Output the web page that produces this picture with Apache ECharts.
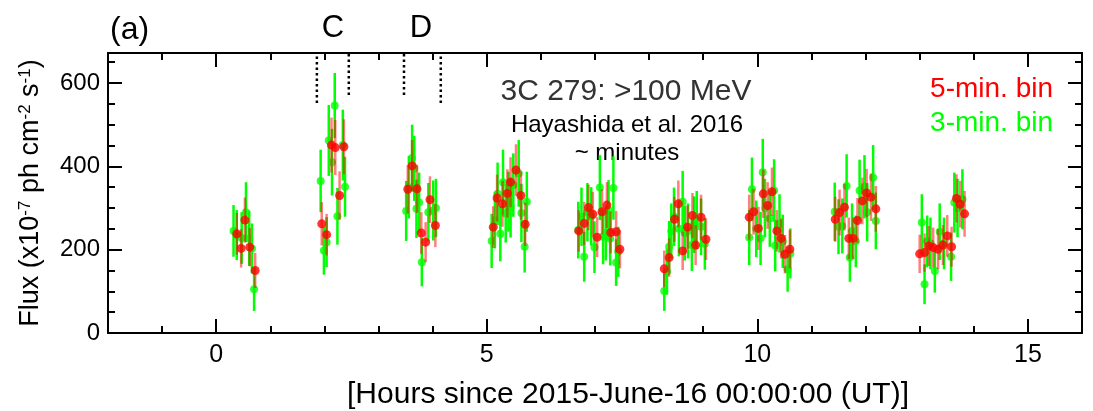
<!DOCTYPE html>
<html><head><meta charset="utf-8">
<script src="https://cdn.jsdelivr.net/npm/echarts@6/dist/echarts.min.js"></script>
<style>html,body{margin:0;padding:0;background:#fff}#c{width:1093px;height:411px}</style>
</head><body><div id="c"></div>
<script>
// ---- data (hours since 2015-06-16 00:00 UT, flux in 1e-7 ph cm^-2 s^-1) ----
const greenX = [0.32,0.38,0.47,0.55,0.61,0.66,0.70,
  1.93,1.99,2.04,2.08,2.14,2.19,2.24,2.34,2.38,
  3.51,3.56,3.62,3.66,3.70,3.75,3.80,3.92,4.01,4.06,
  5.09,5.15,5.20,5.25,5.30,5.35,5.40,5.44,5.49,5.59,5.64,5.70,5.74,
  6.69,6.75,6.80,6.86,6.93,6.99,7.09,7.15,7.20,7.25,7.28,7.34,7.39,7.43,
  8.28,8.33,8.37,8.41,8.46,8.55,8.62,8.66,8.72,8.79,8.83,8.88,8.96,9.03,
  9.85,9.90,9.98,10.06,10.10,10.14,10.23,10.31,10.33,10.41,10.47,10.56,10.61,
  11.43,11.50,11.57,11.65,11.71,11.75,11.82,11.89,11.98,12.03,12.14,12.19,
  13.04,13.09,13.14,13.20,13.28,13.37,13.45,13.58,13.64,13.70,13.79];
const greenY = [245,235,228,290,227,203,105,
  365,198,218,462,410,546,280,451,351,
  293,350,420,395,298,313,170,290,294,300,
  221,271,334,238,362,287,315,301,355,383,288,207,315,
  247,279,183,290,280,206,349,231,240,295,227,348,169,195,
  101,147,207,245,279,250,315,240,245,211,260,271,255,214,
  229,345,250,227,386,300,275,342,210,263,220,153,191,
  291,255,257,353,181,245,220,342,351,290,373,269,
  265,117,220,215,149,243,215,183,313,300,321];
const greenErr = [62,60,62,72,66,60,52,
  75,58,60,85,80,78,68,85,72,
  72,75,80,78,70,72,58,70,72,70,
  65,68,75,66,78,70,72,72,76,80,70,62,72,
  68,70,60,70,70,62,78,66,66,72,65,76,56,60,
  48,55,62,66,70,66,74,66,66,62,68,70,68,62,
  66,76,68,64,80,70,68,75,62,70,64,54,60,
  70,66,66,76,58,66,62,74,76,70,78,68,
  68,48,62,62,52,68,62,58,72,70,72];

const redX = [0.38,0.46,0.53,0.62,0.72,
  1.95,2.04,2.13,2.20,2.28,2.36,
  3.54,3.62,3.71,3.79,3.87,3.95,4.05,
  5.12,5.19,5.29,5.38,5.44,5.54,5.63,5.71,
  6.70,6.80,6.88,6.96,7.04,7.13,7.22,7.29,7.39,7.46,
  8.28,8.37,8.47,8.54,8.62,8.71,8.80,8.86,8.96,9.05,
  9.85,9.93,10.02,10.11,10.19,10.27,10.36,10.44,10.51,10.60,
  11.44,11.52,11.61,11.69,11.77,11.85,11.94,12.02,12.10,12.19,
  13.00,13.09,13.17,13.25,13.34,13.43,13.51,13.59,13.68,13.75,13.83];
const redY = [238,203,271,206,150,
  262,236,451,445,330,447,
  345,401,346,240,218,320,258,
  254,324,310,335,362,391,330,261,
  245,263,301,285,230,291,307,241,243,201,
  154,181,273,310,197,254,282,211,278,225,
  278,291,251,334,306,339,245,227,189,201,
  273,289,302,227,227,270,317,336,326,298,
  190,193,209,205,201,211,233,207,323,309,286];
const redErr = [50,46,54,46,42,
  52,50,66,66,58,66,
  58,62,58,50,48,56,52,
  50,56,55,58,60,62,58,52,
  50,52,55,54,48,54,55,50,50,46,
  44,46,54,56,46,52,54,48,54,50,
  54,55,52,58,56,58,50,48,46,46,
  54,55,56,50,50,54,56,58,57,55,
  46,46,48,48,48,48,50,48,58,56,55];

// dotted interval markers for flares C and D
const markX = [1.86, 2.45, 3.47, 4.15];
const markLow = [552, 571, 571, 552];
const yTop = 672;

const xMajor = [0, 5, 10, 15];
const yMajor = [0, 200, 400, 600];

const FONT = 'Liberation Sans, Arial, Helvetica, sans-serif';

function barData(xs, ys, es){ return xs.map((x,i)=>[x, ys[i], es[i]]); }
function barRender(color){
  return function(params, api){
    const x = api.value(0), y = api.value(1), e = api.value(2);
    const p1 = api.coord([x, y - e]), p2 = api.coord([x, y + e]);
    return {type:'line', shape:{x1:p1[0], y1:p1[1], x2:p2[0], y2:p2[1]},
      style:{stroke: color, lineWidth: 2.5}};
  };
}

const chart = echarts.init(document.getElementById('c'), null, {renderer:'canvas'});
const axisLineStyle = {color:'#000', width:2};
function xAx(pos, major, name){
  const a = {type:'value', position:pos, min:-2, max:16, splitLine:{show:false},
    axisLine:{show: major, lineStyle:axisLineStyle, onZero:false}};
  if (major){
    a.axisTick = {show:true, inside:true, length:14, lineStyle:{color:'#000', width:2}, customValues:xMajor};
    a.axisLabel = pos==='bottom' ? {show:true, customValues:xMajor, fontSize:25, color:'#000', fontFamily:FONT, margin:10} : {show:false};
  } else {
    a.interval = 1;
    a.axisTick = {show:true, inside:true, length:7, lineStyle:{color:'#000', width:2}};
    a.axisLabel = {show:false};
  }
  if (name){
    a.name = name; a.nameLocation = 'middle'; a.nameGap = 47;
    a.nameTextStyle = {fontSize:30, color:'#000', fontFamily:FONT, padding:[0,0,0,66]};
  }
  return a;
}
function yAx(pos, major, name){
  const a = {type:'value', position:pos, min:0, max:yTop, splitLine:{show:false},
    axisLine:{show: major, lineStyle:axisLineStyle, onZero:false}};
  if (major){
    a.axisTick = {show:true, inside:true, length:14, lineStyle:{color:'#000', width:2}, customValues:yMajor};
    a.axisLabel = pos==='left' ? {show:true, customValues:yMajor, fontSize:24, color:'#000', fontFamily:FONT, margin:8} : {show:false};
  } else {
    a.interval = 50;
    a.axisTick = {show:true, inside:true, length:7, lineStyle:{color:'#000', width:2}};
    a.axisLabel = {show:false};
  }
  if (name){
    a.name = name; a.nameLocation = 'middle'; a.nameGap = 64; a.nameRotate = 90;
    a.nameTextStyle = {color:'#000', fontFamily:FONT, rich:{
      a:{fontSize:27, color:'#000', fontFamily:FONT},
      s:{fontSize:17, color:'#000', fontFamily:FONT, verticalAlign:'top'}
    }};
  }
  return a;
}

const option = {
  animation:false,
  backgroundColor:'#fff',
  grid:{left:108, right:11, top:53, bottom:78, containLabel:false, outerBoundsMode:'none'},
  xAxis:[
    xAx('bottom', true, '[Hours since 2015-June-16 00:00:00 (UT)]'),
    xAx('bottom', false),
    xAx('top', true),
    xAx('top', false)
  ],
  yAxis:[
    yAx('left', true, '{a|Flux (x10}{s|-7}{a| ph cm}{s|-2}{a| s}{s|-1}{a|)}'),
    yAx('left', false),
    yAx('right', true),
    yAx('right', false)
  ],
  graphic:[
    {type:'text', x:110, y:30, style:{text:'(a)', font:'32px '+FONT, fill:'#000', align:'left', verticalAlign:'middle'}},
    {type:'text', x:333, y:28, style:{text:'C', font:'31px '+FONT, fill:'#000', align:'center', verticalAlign:'middle'}},
    {type:'text', x:421, y:28, style:{text:'D', font:'31px '+FONT, fill:'#000', align:'center', verticalAlign:'middle'}},
    {type:'text', x:626, y:92, style:{text:'3C 279: >100 MeV', font:'30px '+FONT, fill:'#333', align:'center', verticalAlign:'middle'}},
    {type:'text', x:627, y:125, style:{text:'Hayashida et al. 2016', font:'24px '+FONT, fill:'#000', align:'center', verticalAlign:'middle'}},
    {type:'text', x:627, y:153, style:{text:'~ minutes', font:'24px '+FONT, fill:'#000', align:'center', verticalAlign:'middle'}},
    {type:'text', x:1053, y:89, style:{text:'5-min. bin', font:'28px '+FONT, fill:'#ff0000', align:'right', verticalAlign:'middle'}},
    {type:'text', x:1053, y:123, style:{text:'3-min. bin', font:'28px '+FONT, fill:'#00ff00', align:'right', verticalAlign:'middle'}}
  ],
  series:[
    {type:'custom', name:'markers', xAxisIndex:0, yAxisIndex:0,
      data: markX.map((x,i)=>[x, markLow[i], yTop]),
      renderItem:function(params, api){
        const p1 = api.coord([api.value(0), api.value(1)]), p2 = api.coord([api.value(0), api.value(2)]);
        return {type:'line', shape:{x1:p1[0], y1:p1[1], x2:p2[0], y2:p2[1]},
          style:{stroke:'#000', lineWidth:2.5, lineDash:[2.5,3]}};
      }, z:1},
    {type:'custom', name:'3-min err', xAxisIndex:0, yAxisIndex:0, data:barData(greenX, greenY, greenErr),
      renderItem:barRender('#00ff00'), z:2},
    {type:'scatter', name:'3-min', xAxisIndex:0, yAxisIndex:0, data:greenX.map((x,i)=>[x, greenY[i]]),
      symbolSize:8, itemStyle:{color:'#00ff00'}, z:3},
    {type:'custom', name:'5-min err', xAxisIndex:0, yAxisIndex:0, data:barData(redX, redY, redErr),
      renderItem:barRender('rgba(255,0,0,0.5)'), z:4},
    {type:'scatter', name:'5-min', xAxisIndex:0, yAxisIndex:0, data:redX.map((x,i)=>[x, redY[i]]),
      symbolSize:9, itemStyle:{color:'#ff0000'}, z:5}
  ]
};
chart.setOption(option);
</script></body></html>
